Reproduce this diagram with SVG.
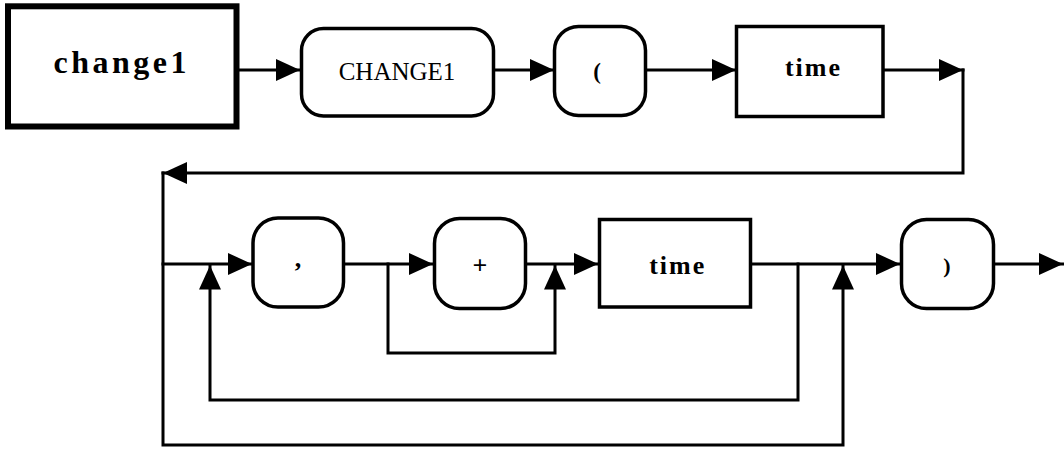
<svg xmlns="http://www.w3.org/2000/svg" width="1064" height="449" viewBox="0 0 1064 449">
<style>
.box{fill:#fff;stroke:#000;stroke-width:3.5}
.term{fill:#fff;stroke:#000;stroke-width:3.5}
.title{fill:#fff;stroke:#000;stroke-width:6}
.t{font-family:"Liberation Serif","Times New Roman",serif;fill:#000;text-anchor:middle}
.b{font-weight:bold}
.con{fill:none;stroke:#000;stroke-width:3;stroke-linejoin:miter;stroke-linecap:square}
</style>
<defs>
<marker id="ah" markerUnits="userSpaceOnUse" markerWidth="26" markerHeight="24" refX="24" refY="11" orient="auto" overflow="visible">
<path d="M0,0 L24,11 L0,22 Z" fill="#000"/>
</marker>
</defs>
<rect width="1064" height="449" fill="#fff"/>
<g id="connectors">
<path class="con" d="M239,70 H300" marker-end="url(#ah)"/>
<path class="con" d="M495,70 H554" marker-end="url(#ah)"/>
<path class="con" d="M647,70 H736" marker-end="url(#ah)"/>
<path class="con" d="M884,70 H963" marker-end="url(#ah)"/>
<path class="con" d="M963,70 V173 H163" marker-end="url(#ah)"/>
<path class="con" d="M163,173 V445 H843 V265.5" marker-end="url(#ah)"/>
<path class="con" d="M163,264 H252" marker-end="url(#ah)"/>
<path class="con" d="M798,264 V400 H210 V265.5" marker-end="url(#ah)"/>
<path class="con" d="M345,264 H433" marker-end="url(#ah)"/>
<path class="con" d="M388,264 V353 H555 V265.5" marker-end="url(#ah)"/>
<path class="con" d="M527,264 H598" marker-end="url(#ah)"/>
<path class="con" d="M752,264 H900" marker-end="url(#ah)"/>
<path class="con" d="M995,264 H1063" marker-end="url(#ah)"/>
</g>
<g id="node-change1">
<rect class="title" x="8" y="6.3" width="228.5" height="120.2"/>
<text class="t b" x="121.7" y="73" font-size="32" letter-spacing="3.5">change1</text>
</g>
<g id="node-CHANGE1">
<rect class="term" x="301.5" y="28.5" width="192" height="87.5" rx="22"/>
<text class="t" x="397" y="80" font-size="25">CHANGE1</text>
</g>
<g id="node-lparen">
<rect class="term" x="554.5" y="26.5" width="91" height="89" rx="24"/>
<text class="t b" x="597" y="79" font-size="23">(</text>
</g>
<g id="node-time1">
<rect class="box" x="736.5" y="26.5" width="146.5" height="90"/>
<text class="t b" x="813.5" y="75.5" font-size="26" letter-spacing="2">time</text>
</g>
<g id="node-comma">
<rect class="term" x="253" y="218" width="90.5" height="89" rx="25"/>
<text class="t b" x="298" y="266.5" font-size="26">,</text>
</g>
<g id="node-plus">
<rect class="term" x="434.5" y="218.5" width="91" height="90" rx="25"/>
<text class="t b" x="480" y="274" font-size="26">+</text>
</g>
<g id="node-time2">
<rect class="box" x="599.5" y="219.5" width="151" height="87.5"/>
<text class="t b" x="677.7" y="273.5" font-size="26" letter-spacing="2">time</text>
</g>
<g id="node-rparen">
<rect class="term" x="901.5" y="219.5" width="92" height="89" rx="25"/>
<text class="t b" x="947" y="273" font-size="22">)</text>
</g>
</svg>
